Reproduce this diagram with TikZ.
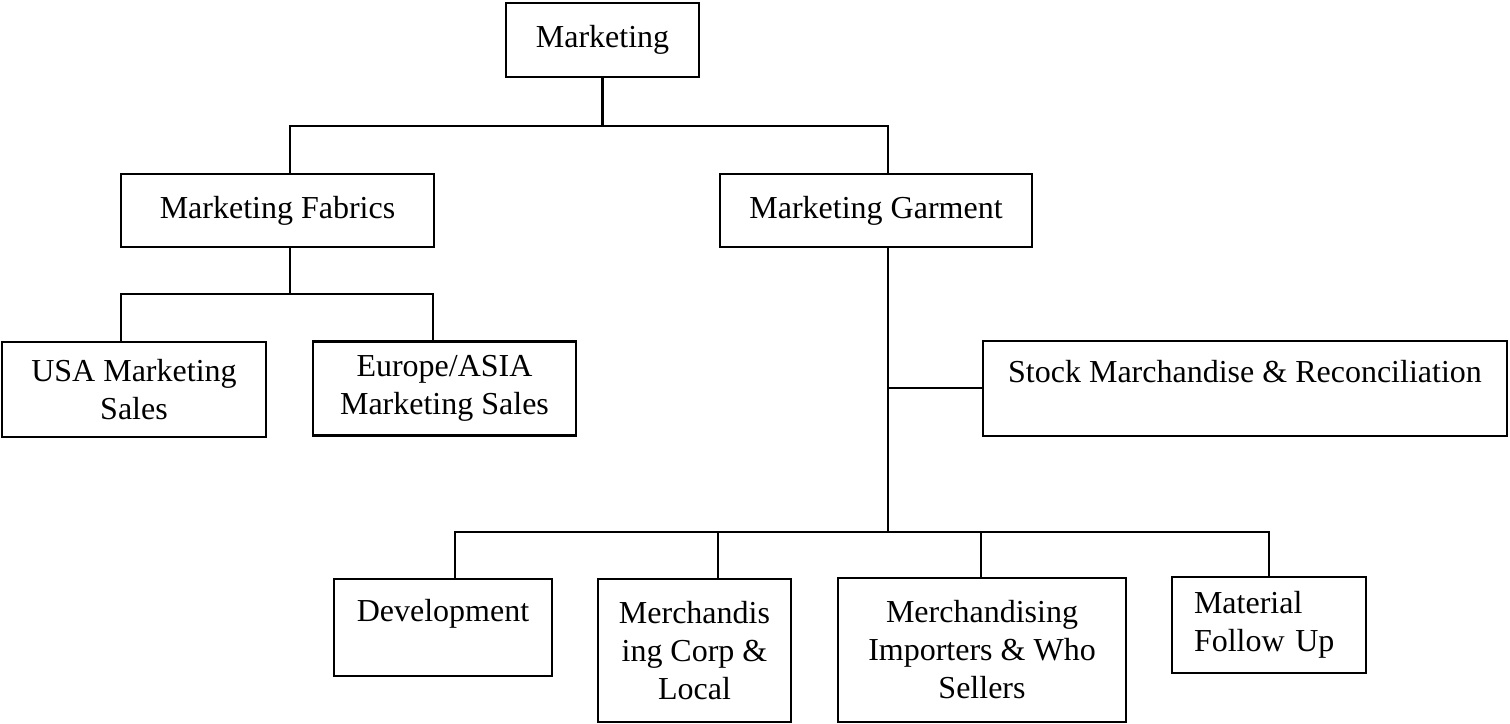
\documentclass[tikz,border=0pt]{standalone}
\usepackage{fontspec}
\setmainfont{Liberation Serif}
\begin{document}
\begin{tikzpicture}[x=1pt,y=-1pt,
  box/.style={draw, line width=2.4pt, inner sep=0pt, align=center, font=\fontsize{32}{38}\selectfont},
  conn/.style={line width=2.4pt}]
\useasboundingbox (0,0) rectangle (1510,723);
% boxes
\node[box, minimum width=193pt, minimum height=74pt] (mkt) at (602.5,40) {Marketing};
\node[box, minimum width=313pt, minimum height=73pt] (fab) at (277.5,210.5) {Marketing Fabrics};
\node[box, minimum width=312pt, minimum height=73pt] (gar) at (876,210.5) {Marketing Garment};
\node[box, minimum width=264pt, minimum height=95pt] (usa) at (134,389.5) {USA Marketing\\Sales};
\node[box, minimum width=263pt, minimum height=94pt] (eur) at (444.5,388.5) {Europe/ASIA\\Marketing Sales};
\node[box, minimum width=524pt, minimum height=95pt] (stk) at (1245,388.5) {Stock Marchandise \& Reconciliation\\[-16pt]\strut};
\node[box, minimum width=218pt, minimum height=97pt] (dev) at (443,627.5) {Development\\[-16pt]\strut};
\node[box, minimum width=193pt, minimum height=143pt] (mc) at (694.5,650.5) {Merchandis\\ing Corp \&\\Local};
\node[box, minimum width=288pt, minimum height=144pt] (mi) at (982,650) {Merchandising\\Importers \& Who\\Sellers};
\node[box, minimum width=194pt, minimum height=96pt, text width=150pt, align=left] (mat) at (1269,625) {Material\\Follow Up};
% junction coordinates
\coordinate (h1l) at (290,126);
\coordinate (h1r) at (888,126);
\coordinate (fv) at (290,294);
\coordinate (h2l) at (121,294);
\coordinate (h2r) at (433,294);
\coordinate (gv) at (888,532);
\coordinate (sb) at (888,388);
\coordinate (h3l) at (455,532);
\coordinate (h3r) at (1269,532);
\coordinate (b2) at (718,532);
\coordinate (b3) at (981,532);
% connectors
\draw[conn] (mkt.south) -- (mkt.south |- h1l);
\draw[conn] (fab.north -| h1l) -- (h1l) -- (h1r) -- (gar.north -| h1r);
\draw[conn] (fab.south -| fv) -- (fv);
\draw[conn] (usa.north -| h2l) -- (h2l) -- (h2r) -- (eur.north -| h2r);
\draw[conn] (gar.south -| gv) -- (gv);
\draw[conn] (sb) -- (stk.west |- sb);
\draw[conn] (dev.north -| h3l) -- (h3l) -- (h3r) -- (mat.north -| h3r);
\draw[conn] (b2) -- (mc.north -| b2);
\draw[conn] (b3) -- (mi.north -| b3);
\end{tikzpicture}
\end{document}
